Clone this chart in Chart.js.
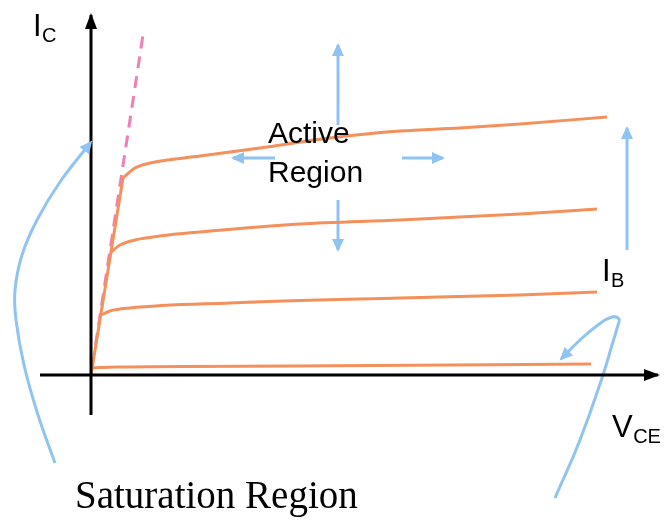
<!DOCTYPE html>
<html><head><meta charset="utf-8">
<script src="https://cdn.jsdelivr.net/npm/chart.js@4"></script>
<style>html,body{margin:0;padding:0;background:#fff}#wrap{width:666px;height:524px;position:relative}</style>
</head><body><div id="wrap"><canvas id="c" width="666" height="524"></canvas></div>
<script>
// Output characteristic curves (VCE, IC)
const vceLine = [0, 0.64];
const icLine = [0, 3.94];
const vceTop = [0.64, 0.88, 1.18, 2.18, 3.38, 4.78, 6.18, 7.38, 8.58, 10.32];
const icTop = [3.94, 4.14, 4.24, 4.38, 4.54, 4.74, 4.88, 4.94, 5.02, 5.16];
const vceSecond = [0.40, 0.58, 0.88, 1.38, 2.18, 4.18, 6.18, 7.38, 8.58, 10.12];
const icSecond = [2.46, 2.60, 2.70, 2.78, 2.86, 3.02, 3.10, 3.16, 3.22, 3.32];
const vceThird = [0.20, 0.38, 0.78, 2.78, 6.18, 8.58, 10.12];
const icThird = [1.20, 1.28, 1.34, 1.44, 1.54, 1.60, 1.66];
const vceBottom = [0.03, 0.5, 4.0, 10.0];
const icBottom = [0.14, 0.16, 0.18, 0.22];
const vceSatLine = [0.09, 1.04];
const icSatLine = [0.6, 6.8];
// Axes
const vceAxis = [-1.02, 11.34];
const icAxis = [-0.8, 7.2];
// Annotation arrows
const upArrowV = [4.94, 4.94], upArrowI = [5.0, 6.6];
const downArrowV = [4.94, 4.94], downArrowI = [3.5, 2.5];
const leftArrowV = [3.68, 2.84], leftArrowI = [4.34, 4.34];
const rightArrowV = [6.22, 7.04], rightArrowI = [4.34, 4.34];
const ibArrowV = [10.72, 10.72], ibArrowI = [2.5, 4.94];
const satCurveV = [-0.72, -1.06, -1.34, -1.5, -1.52, -1.38, -1.08, -0.62, 0];
const satCurveI = [-1.76, -0.8, 0.2, 1.1, 1.7, 2.4, 3.1, 3.86, 4.66];
const hookV = [9.28, 9.78, 10.24, 10.42, 10.54, 10.56, 10.42, 10.14, 9.78, 9.40];
const hookI = [-2.46, -1.3, 0, 0.6, 1.0, 1.12, 1.16, 1.0, 0.7, 0.32];

const ORANGE = '#f4905c', BLUE = '#8fc4f2', PINK = '#f07fb5';
const zip = (xs, ys) => xs.map((x, i) => ({x, y: ys[i]}));

function ds(xs, ys, color, width, extra) {
  return Object.assign({
    data: zip(xs, ys), borderColor: color, borderWidth: width,
    pointRadius: 0, fill: false, showLine: true, tension: 0
  }, extra || {});
}

const datasets = [
  ds(vceAxis, [0, 0], '#000', 3, {arrow: {len: 14, half: 6, color: '#000'}}),
  ds([0, 0], icAxis, '#000', 3, {arrow: {len: 14, half: 6, color: '#000'}}),
  ds(vceLine, icLine, ORANGE, 3),
  ds(vceTop, icTop, ORANGE, 3, {cubicInterpolationMode: 'monotone'}),
  ds(vceSecond, icSecond, ORANGE, 3, {cubicInterpolationMode: 'monotone'}),
  ds(vceThird, icThird, ORANGE, 3, {cubicInterpolationMode: 'monotone'}),
  ds(vceBottom, icBottom, ORANGE, 3, {cubicInterpolationMode: 'monotone'}),
  ds(vceSatLine, icSatLine, PINK, 3, {borderDash: [12, 8]}),
  ds(upArrowV, upArrowI, BLUE, 3, {arrow: {len: 11, half: 6, color: BLUE}}),
  ds(downArrowV, downArrowI, BLUE, 3, {arrow: {len: 11, half: 6, color: BLUE}}),
  ds(leftArrowV, leftArrowI, BLUE, 3, {arrow: {len: 11, half: 6, color: BLUE}}),
  ds(rightArrowV, rightArrowI, BLUE, 3, {arrow: {len: 11, half: 6, color: BLUE}}),
  ds(ibArrowV, ibArrowI, BLUE, 3, {arrow: {len: 11, half: 6, color: BLUE}}),
  ds(satCurveV, satCurveI, BLUE, 3, {tension: 0.4, arrow: {len: 11, half: 6, color: BLUE}}),
  ds(hookV, hookI, BLUE, 3, {tension: 0.45, arrow: {len: 11, half: 6, color: BLUE}})
];

const texts = [
  {main: 'I', sub: 'C', x: -1.16, y: 6.78, size: 31, subSize: 20, font: 'Liberation Sans, Arial, sans-serif'},
  {main: 'I', sub: 'B', x: 10.22, y: 1.88, size: 31, subSize: 20, font: 'Liberation Sans, Arial, sans-serif'},
  {main: 'V', sub: 'CE', x: 10.42, y: -1.24, size: 31, subSize: 20, font: 'Liberation Sans, Arial, sans-serif'},
  {main: 'Active', x: 3.54, y: 4.64, size: 30, font: 'Liberation Sans, Arial, sans-serif'},
  {main: 'Region', x: 3.54, y: 3.86, size: 30, font: 'Liberation Sans, Arial, sans-serif'},
  {main: 'Saturation Region', x: -0.32, y: -2.66, size: 39, font: 'Liberation Serif, Times New Roman, serif'}
];

const arrowPlugin = {
  id: 'arrows',
  afterDatasetsDraw(chart) {
    const ctx = chart.ctx;
    chart.data.datasets.forEach((d, i) => {
      if (!d.arrow) return;
      const pts = chart.getDatasetMeta(i).data;
      const a = pts[pts.length - 2], b = pts[pts.length - 1];
      const ang = Math.atan2(b.y - a.y, b.x - a.x);
      const {len, half, color} = d.arrow;
      ctx.save();
      ctx.translate(b.x, b.y);
      ctx.rotate(ang);
      ctx.fillStyle = color;
      ctx.beginPath();
      ctx.moveTo(2, 0);
      ctx.lineTo(-len, -half);
      ctx.lineTo(-len, half);
      ctx.closePath();
      ctx.fill();
      ctx.restore();
    });
  }
};

const textPlugin = {
  id: 'texts',
  afterDraw(chart) {
    const ctx = chart.ctx, sx = chart.scales.x, sy = chart.scales.y;
    ctx.save();
    ctx.fillStyle = '#000';
    ctx.strokeStyle = '#000';
    ctx.textBaseline = 'alphabetic';
    ctx.textAlign = 'left';
    texts.forEach(t => {
      const px = sx.getPixelForValue(t.x), py = sy.getPixelForValue(t.y);
      ctx.font = t.size + 'px ' + t.font;
      ctx.fillText(t.main, px, py);
      if (t.sub) {
        const w = ctx.measureText(t.main).width;
        ctx.font = t.subSize + 'px ' + t.font;
        ctx.fillText(t.sub, px + w + 0.5, py + 6);
      }
    });
    ctx.restore();
  }
};

new Chart(document.getElementById('c'), {
  type: 'scatter',
  data: {datasets},
  options: {
    responsive: false,
    animation: false,
    layout: {padding: 0},
    scales: {
      x: {type: 'linear', min: -1.82, max: 11.5, display: false},
      y: {type: 'linear', min: -2.98, max: 7.5, display: false}
    },
    plugins: {legend: {display: false}, tooltip: {enabled: false}}
  },
  plugins: [arrowPlugin, textPlugin]
});
</script>
</body></html>
